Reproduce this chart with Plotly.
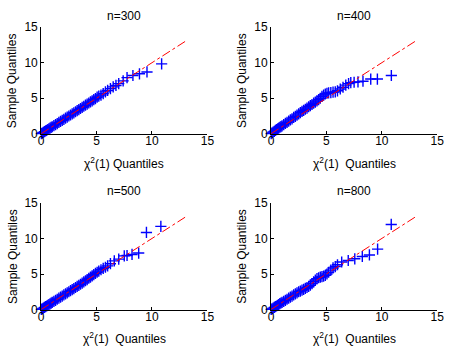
import plotly.graph_objects as go

# Theoretical chi2(1) quantiles (dense part, shared by all panels)
QX = [0.02, 0.1, 0.2, 0.3, 0.4, 0.5, 0.6, 0.7, 0.8, 0.9, 1.0, 1.15, 1.3, 1.45,
      1.6, 1.75, 1.9, 2.05, 2.2, 2.35, 2.5, 2.65, 2.8, 2.95, 3.1, 3.25, 3.4,
      3.55, 3.7, 3.85, 4.0, 4.15, 4.3, 4.45, 4.6, 4.75, 4.9, 5.05, 5.2, 5.4,
      5.6, 5.8, 6.0]

# Sample quantiles per panel (dense part)
Y300 = [0.02, 0.1, 0.19, 0.29, 0.4, 0.49, 0.6, 0.69, 0.8, 0.9, 0.99, 1.14, 1.3,
        1.44, 1.6, 1.74, 1.9, 2.04, 2.2, 2.34, 2.5, 2.64, 2.8, 2.95, 3.1, 3.25,
        3.4, 3.56, 3.72, 3.87, 4.02, 4.17, 4.33, 4.48, 4.63, 4.8, 4.96, 5.15,
        5.3, 5.45, 5.65, 5.9, 6.1]
Y400 = [0.02, 0.12, 0.25, 0.35, 0.47, 0.58, 0.7, 0.8, 0.92, 1.02, 1.12, 1.3,
        1.45, 1.6, 1.78, 1.95, 2.1, 2.3, 2.45, 2.62, 2.8, 2.98, 3.15, 3.3, 3.45,
        3.62, 3.8, 3.95, 4.12, 4.3, 4.45, 4.62, 4.8, 5.0, 5.25, 5.45, 5.6, 5.7,
        5.75, 5.8, 5.85, 5.9, 6.05]
Y500 = [0.02, 0.1, 0.2, 0.3, 0.4, 0.5, 0.6, 0.7, 0.8, 0.9, 1.0, 1.15, 1.3, 1.45,
        1.6, 1.75, 1.9, 2.05, 2.2, 2.35, 2.5, 2.65, 2.8, 2.94, 3.1, 3.25, 3.4,
        3.56, 3.72, 3.88, 4.05, 4.2, 4.4, 4.57, 4.75, 4.92, 5.1, 5.25, 5.4, 5.6,
        5.8, 5.95, 6.15]
Y800 = [0.02, 0.1, 0.2, 0.3, 0.4, 0.5, 0.6, 0.7, 0.82, 0.92, 1.0, 1.15, 1.3,
        1.45, 1.6, 1.75, 1.9, 2.05, 2.2, 2.35, 2.5, 2.6, 2.72, 2.85, 2.98, 3.1,
        3.25, 3.42, 3.65, 3.9, 4.15, 4.35, 4.47, 4.55, 4.62, 4.7, 4.8, 5.0,
        5.25, 5.55, 5.85, 6.05, 6.3]

# Upper tail points per panel
TX300 = [6.25, 6.5, 6.75, 7.0, 7.4, 7.75, 8.28, 8.87, 9.55, 10.87]
TY300 = [6.35, 6.6, 6.8, 7.05, 7.45, 7.9, 8.2, 8.44, 8.7, 9.83]
TX400 = [6.25, 6.5, 6.75, 7.0, 7.2, 7.5, 7.85, 8.3, 9.0, 9.6, 10.86]
TY400 = [6.3, 6.55, 6.85, 7.05, 7.2, 7.25, 7.3, 7.4, 7.7, 7.7, 8.2]
TX500 = [6.25, 6.6, 7.0, 7.5, 7.75, 8.2, 8.8, 9.5, 10.8]
TY500 = [6.45, 6.85, 7.1, 7.55, 7.6, 7.75, 7.95, 10.85, 11.7]
TX800 = [6.38, 6.97, 7.56, 8.24, 8.88, 9.62, 10.85]
TY800 = [6.69, 6.9, 7.14, 7.46, 7.68, 8.5, 11.97]

# Reference line end points
LINE_X = [0, 13]
LINE_Y = [0, 13]

TITLES = ["n=300", "n=400", "n=500", "n=800"]
XLABELS = ["\u03c7<sup>2</sup>(1) Quantiles",
           "\u03c7<sup>2</sup>(1)\u00a0 Quantiles",
           "\u03c7<sup>2</sup>(1)\u00a0 Quantiles",
           "\u03c7<sup>2</sup>(1)\u00a0 Quantiles"]
YLABEL = "Sample Quantiles"
TICKS = [0, 5, 10, 15]

W, H = 455, 354
# plot areas in pixels: (left, right, top, bottom)
BOXES = [(39, 209, 21, 132), (274, 444, 21, 132),
         (39, 209, 204, 315), (274, 444, 204, 315)]

panels = [(QX + TX300, Y300 + TY300), (QX + TX400, Y400 + TY400),
          (QX + TX500, Y500 + TY500), (QX + TX800, Y800 + TY800)]

FONT = "Liberation Sans, Arial, sans-serif"
fig = go.Figure()
annotations = []
for i, ((xs, ys), (l, r, t, b)) in enumerate(zip(panels, BOXES)):
    k = "" if i == 0 else str(i + 1)
    xa, ya = "x" + k, "y" + k
    fig.add_trace(go.Scatter(x=xs, y=ys, mode="markers", xaxis=xa, yaxis=ya,
                             marker=dict(symbol="cross-thin", size=8,
                                         line=dict(color="#0000FF", width=1.4)),
                             cliponaxis=False, showlegend=False))
    fig.add_trace(go.Scatter(x=LINE_X, y=LINE_Y, mode="lines", xaxis=xa, yaxis=ya,
                             line=dict(color="#FF0000", width=1, dash="dashdot"),
                             showlegend=False))
    axstyle = dict(range=[0, 15], tickvals=TICKS, showgrid=False, zeroline=False,
                   showline=True, linecolor="black", linewidth=1, ticks="inside",
                   ticklen=3, tickcolor="black", mirror=False,
                   tickfont=dict(family=FONT, size=12, color="black"))
    fig.layout["xaxis" + k] = dict(axstyle, domain=[l / W, r / W], anchor=ya,
                                   ticklabelstandoff=-4)
    fig.layout["yaxis" + k] = dict(axstyle, domain=[1 - b / H, 1 - t / H], anchor=xa)
    cx = (l + r) / 2
    common = dict(xref="paper", yref="paper", showarrow=False,
                  xanchor="center", yanchor="middle",
                  font=dict(family=FONT, size=12, color="black"))
    annotations.append(dict(common, text=TITLES[i], x=cx / W, y=1 - (t - 12) / H))
    annotations.append(dict(common, text=XLABELS[i], x=cx / W, y=1 - (b + 30) / H))
    annotations.append(dict(common, text=YLABEL, x=(l - 29) / W,
                            y=1 - (t + b) / 2 / H, textangle=-90))

fig.update_layout(width=W, height=H, margin=dict(l=0, r=0, t=0, b=0),
                  paper_bgcolor="white", plot_bgcolor="white",
                  annotations=annotations)
fig.write_html("out.html")
